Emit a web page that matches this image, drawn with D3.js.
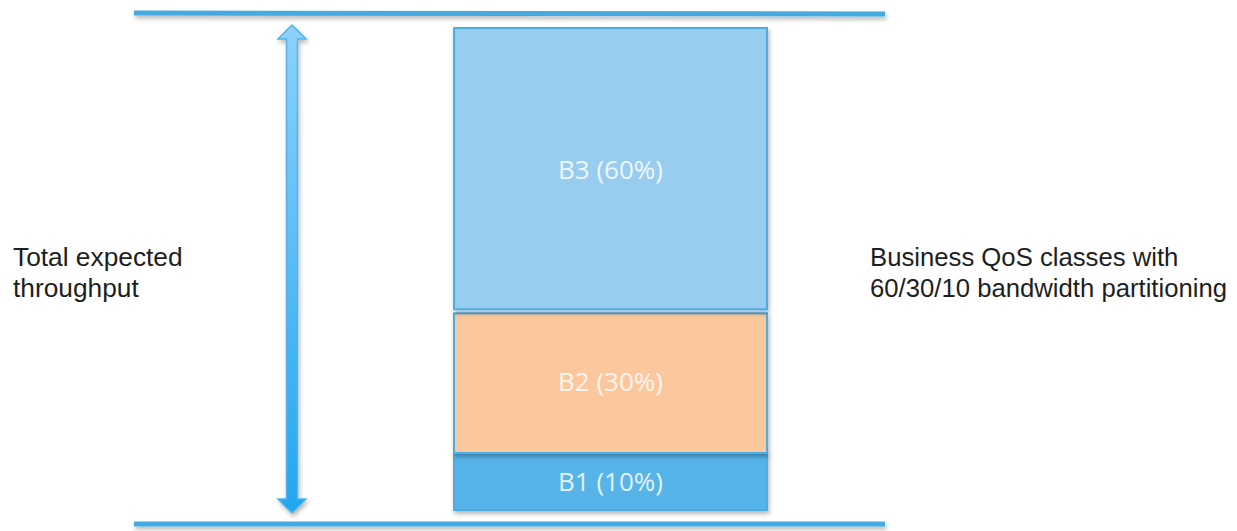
<!DOCTYPE html>
<html><head><meta charset="utf-8">
<script src="https://cdn.jsdelivr.net/npm/d3@7"></script>
<style>html,body{margin:0;padding:0;background:#fff;}svg{display:block;}</style>
</head><body>
<svg id="chart" width="1237" height="531"></svg>
<script>
const classes = ["B1", "B2", "B3"];
const shares = [10, 30, 60];
const leftLabel = ["Total expected", "throughput"];
const rightLabel = ["Business QoS classes with", "60/30/10 bandwidth partitioning"];

(function(){
const svg = d3.select("#chart");
const defs = svg.append("defs");
const f = defs.append("filter").attr("id","sh").attr("filterUnits","userSpaceOnUse")
  .attr("x",0).attr("y",0).attr("width",1237).attr("height",531);
f.append("feDropShadow").attr("dx",1.5).attr("dy",3).attr("stdDeviation",2).attr("flood-color","#000").attr("flood-opacity",0.28);
const g = defs.append("linearGradient").attr("id","ag").attr("x1",0).attr("y1",0).attr("x2",0).attr("y2",1);
g.append("stop").attr("offset","0%").attr("stop-color","#8fd1f8");
g.append("stop").attr("offset","100%").attr("stop-color","#22a6ef");

const ends = d3.cumsum(shares);
const starts = ends.map((e,i)=>e-shares[i]);
const y = d3.scaleLinear().domain([0, 10, 100]).range([510, 453, 28]);
const x = d3.scaleBand().domain(["bar"]).range([454, 767]);
const color = d3.scaleOrdinal().domain(classes).range(["#56b4e9", "#fac89c", "#99cdef"]);
const gapTop = d3.scaleOrdinal().domain(classes).range([0, 2, 0]);
const gapBot = d3.scaleOrdinal().domain(classes).range([0, 0, 2]);

// horizontal lines
const lineY = d3.scaleLinear().domain([0, 100]).range([524, 13]);
svg.selectAll("line.h").data([0, 100]).join("line").attr("class","h")
  .attr("x1",134).attr("x2",885)
  .attr("y1",d=>lineY(d)).attr("y2",d=>lineY(d)+ (d===100?1:0))
  .attr("stroke","#45aae2").attr("stroke-width",5).attr("filter","url(#sh)");

// double arrow
const ax = 292, yTop = y(100)-3, yBot = y(0)+3, hw = 14, sw = 5.5, hl = 14;
const ap = d3.path();
ap.moveTo(ax, yTop); ap.lineTo(ax+hw, yTop+hl); ap.lineTo(ax+sw, yTop+hl);
ap.lineTo(ax+sw, yBot-hl); ap.lineTo(ax+hw, yBot-hl); ap.lineTo(ax, yBot);
ap.lineTo(ax-hw, yBot-hl); ap.lineTo(ax-sw, yBot-hl); ap.lineTo(ax-sw, yTop+hl);
ap.lineTo(ax-hw, yTop+hl); ap.closePath();
svg.append("path").attr("d", ap.toString()).attr("fill","url(#ag)")
  .attr("stroke","#4fb2ea").attr("stroke-width",1.5).attr("stroke-linejoin","miter").attr("filter","url(#sh)");

// stacked bar
const segs = classes.map((c,i)=>({c, v:shares[i], s:starts[i], e:ends[i]}));
const bars = svg.append("g");
bars.selectAll("rect").data(segs).join("rect")
  .attr("x", x("bar")).attr("width", x.bandwidth())
  .attr("y", d=>y(d.e)+gapTop(d.c)).attr("height", d=>y(d.s)-y(d.e)-gapTop(d.c)-gapBot(d.c))
  .attr("fill", d=>color(d.c)).attr("stroke","#4badE6").attr("stroke-width",2)
  .attr("filter","url(#sh)");
bars.selectAll("text").data(segs).join("text")
  .attr("x", x("bar")+x.bandwidth()/2).attr("y", d=>(y(d.s)+y(d.e))/2 - 1)
  .attr("text-anchor","middle").attr("dominant-baseline","central")
  .attr("font-family","'Open Sans', sans-serif").attr("font-size",26)
  .attr("fill","#ffffff").attr("fill-opacity",0.85)
  .text(d=>`${d.c} (${d.v}%)`);

// side labels
function block(lines, x0, y0, size){
  const t = svg.append("text").attr("font-family","'Liberation Sans', Arial, sans-serif")
    .attr("font-size",size).attr("fill","#1e1e1e");
  lines.forEach((l,i)=>t.append("tspan").attr("x",x0).attr("y",y0+i*31).text(l));
}
block(leftLabel, 13, 266, 26.3);
block(rightLabel, 870, 266, 25.7);
})();
</script>
</body></html>
